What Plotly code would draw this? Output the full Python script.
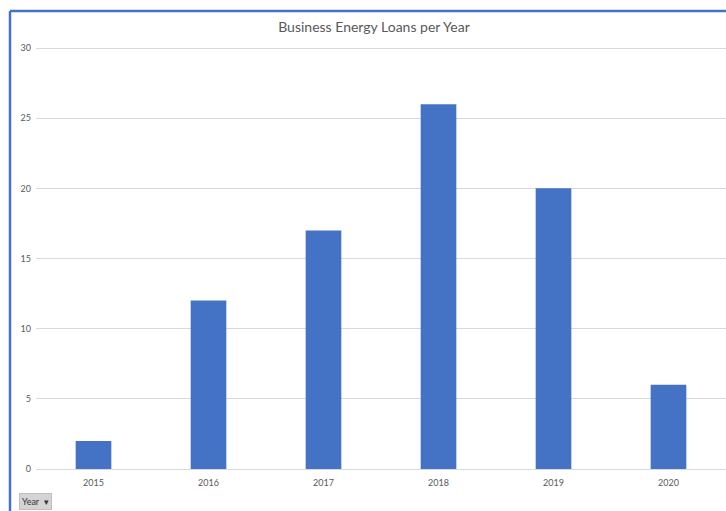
import plotly.graph_objects as go

years = ["2015", "2016", "2017", "2018", "2019", "2020"]
loans = [2, 12, 17, 26, 20, 6]
y_ticks = [0, 5, 10, 15, 20, 25, 30]

W, H = 726, 511
L, R, B = 36, 0, 42
Y_MAX = 31
unit = 421 / 30
T = int(round(H - B - unit * Y_MAX))
pw, ph = W - L - R, H - T - B

def px_x(p):
    return (p - L) / pw

def px_y(p):
    return (H - B - p) / ph

fig = go.Figure(go.Bar(x=years, y=loans, marker=dict(color="#4472C4", line=dict(width=0)), width=0.31))

blue = "#4472C4"
fig.update_layout(
    width=W, height=H,
    margin=dict(l=L, r=R, t=T, b=B),
    paper_bgcolor="white", plot_bgcolor="white",
    title=dict(text="Business Energy Loans per Year", x=px_x(374), xref="paper", xanchor="center",
               y=1 - 27 / H, yanchor="middle",
               font=dict(family="Lato, Open Sans, sans-serif", size=14, color="#595959")),
    font=dict(family="Lato, Open Sans, sans-serif", size=9, color="#595959"),
    showlegend=False,
    xaxis=dict(type="category", showgrid=False, showline=True, linecolor="#d9d9d9", linewidth=1,
               ticks="", tickfont=dict(size=9, color="#595959"), ticklabelstandoff=5),
    yaxis=dict(range=[0, Y_MAX], tickvals=y_ticks, showgrid=True, gridcolor="#d9d9d9", gridwidth=1,
               zeroline=False, showline=False, ticks="", tickfont=dict(size=9, color="#595959"),
               ticklabelstandoff=4),
    shapes=[
        dict(type="line", xref="paper", yref="paper", x0=px_x(10), x1=px_x(10), y0=px_y(520), y1=px_y(11),
             line=dict(color=blue, width=2.5)),
        dict(type="line", xref="paper", yref="paper", x0=px_x(10), x1=px_x(740), y0=px_y(11), y1=px_y(11),
             line=dict(color=blue, width=2.5)),
    ],
    annotations=[
        dict(text="Year  ▾", xref="paper", yref="paper", x=px_x(19), y=px_y(501), xanchor="left", yanchor="middle",
             showarrow=False, bgcolor="#d4d4d4", font=dict(size=9, color="#333333"), borderpad=2,
             bordercolor="#bfbfbf", borderwidth=1),
    ],
)

fig.write_html("out.html")
